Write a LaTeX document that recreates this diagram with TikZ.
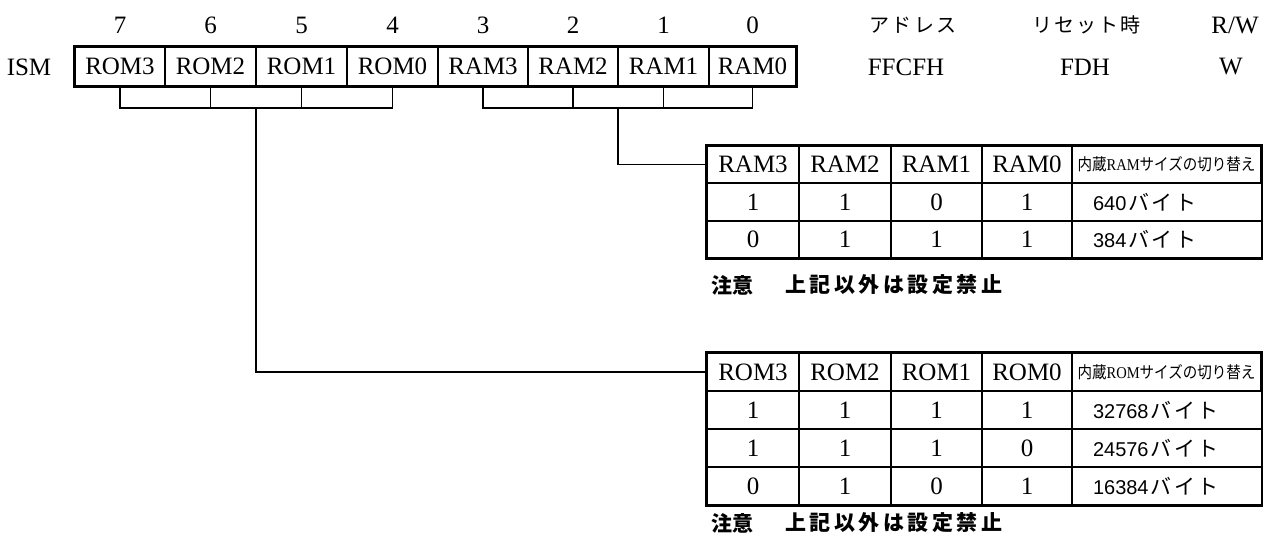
\documentclass[tikz,border=0pt]{standalone}
\usepackage{fontspec}
\setmainfont{Liberation Serif}
\newfontfamily\cjk{Noto Sans CJK JP}
\newfontfamily\numsans{Liberation Sans}
\newcommand\bytes{{\fontsize{21}{21}\selectfont\cjk\makebox[68pt]{バ\hfill イ\hfill ト}}}
\begin{document}
\begin{tikzpicture}[x=1pt,y=-1pt,
  lbl/.style={inner sep=0pt, font=\fontsize{25}{25}\selectfont},
  jlbl/.style={inner sep=0pt, font=\fontsize{20}{20}\selectfont\cjk},
  cell/.style={draw, line width=1.2pt, inner sep=0pt, font=\fontsize{25}{25}\selectfont},
  regcell/.style={cell, line width=1.5pt, minimum height=39pt},
  sizecell/.style={cell, minimum width=190pt, text width=148pt, align=left, inner xsep=21pt},
  outer/.style={draw, line width=2pt},
  br/.style={draw, line width=1.3pt},
  note/.style={inner sep=0pt, anchor=west, font=\fontsize{21}{21}\selectfont\cjk\bfseries}
]
\useasboundingbox (0,0) rectangle (1263,540);

% register
\node[regcell, minimum width=90pt] (b7) at (120,66.5) {ROM3};
\node[regcell, minimum width=91pt] (b6) at (210.5,66.5) {ROM2};
\node[regcell, minimum width=91pt] (b5) at (301.5,66.5) {ROM1};
\node[regcell, minimum width=91pt] (b4) at (392.5,66.5) {ROM0};
\node[regcell, minimum width=90pt] (b3) at (483,66.5) {RAM3};
\node[regcell, minimum width=90pt] (b2) at (573,66.5) {RAM2};
\node[regcell, minimum width=91pt] (b1) at (663.5,66.5) {RAM1};
\node[regcell, minimum width=87pt] (b0) at (752.5,66.5) {RAM0};
\draw[outer] (b7.north west) rectangle (b0.south east);

% bit numbers and header texts
\foreach \i in {7,...,0}{
  \node[lbl] (n\i) at (b\i |- 0,25) {\i};
}
\node[lbl] (ism) at (29,67) {ISM};
\node[jlbl] (hadr) at (913,25) {\makebox[87pt]{ア\hfill ド\hfill レ\hfill ス}};
\node[jlbl] (hrst) at (1086,25) {\makebox[108pt]{リ\hfill セ\hfill ッ\hfill ト\hfill 時}};
\node[lbl] (hrw) at (1235,25) {R/W};
\node[lbl] (vadr) at (906,67) {FFCFH};
\node[lbl] (vrst) at (1085,67) {FDH};
\node[lbl] (vrw) at (1231,67) {W};

% RAM table
\foreach \r/\cy/\h/\a/\b/\c/\d in {0/164.5/37/RAM3/RAM2/RAM1/RAM0, 1/202/38/1/1/0/1, 2/239.5/37/0/1/1/1}{
  \node[cell, minimum width=92pt, minimum height=\h pt] (ra-\r-0) at (753,\cy) {\a};
  \node[cell, minimum width=92pt, minimum height=\h pt] (ra-\r-1) at (845,\cy) {\b};
  \node[cell, minimum width=91pt, minimum height=\h pt] (ra-\r-2) at (936.5,\cy) {\c};
  \node[cell, minimum width=90pt, minimum height=\h pt] (ra-\r-3) at (1027,\cy) {\d};
}
\node[cell, minimum width=189pt, minimum height=37pt] (ra-0-4) at (1166.5,164.5)
  {\resizebox{178pt}{14pt}{\fontsize{15}{15}\selectfont\cjk 内蔵{\rmfamily RAM}サイズの切り替え}};
\node[sizecell, minimum height=38pt, text width=147pt] (ra-1-4) at (1166.5,202)
  {{\fontsize{20}{20}\selectfont\numsans 640}\hspace{2pt}\bytes};
\node[sizecell, minimum height=37pt, text width=147pt] (ra-2-4) at (1166.5,239.5)
  {{\fontsize{20}{20}\selectfont\numsans 384}\hspace{2pt}\bytes};
\draw[outer] (ra-0-0.north west) rectangle (ra-2-4.south east);
\node[note] (ranote1) at (711,285) {\makebox[42pt]{注\hfill 意}};
\node[note] (ranote2) at (785,285) {\makebox[217pt]{上\hfill 記\hfill 以\hfill 外\hfill は\hfill 設\hfill 定\hfill 禁\hfill 止}};

% ROM table
\foreach \r/\cy/\a/\b/\c/\d in {0/372/ROM3/ROM2/ROM1/ROM0, 1/410/1/1/1/1, 2/448/1/1/1/0, 3/486/0/1/0/1}{
  \node[cell, minimum width=92pt, minimum height=38pt] (ro-\r-0) at (753,\cy) {\a};
  \node[cell, minimum width=92pt, minimum height=38pt] (ro-\r-1) at (845,\cy) {\b};
  \node[cell, minimum width=91pt, minimum height=38pt] (ro-\r-2) at (936.5,\cy) {\c};
  \node[cell, minimum width=90pt, minimum height=38pt] (ro-\r-3) at (1027,\cy) {\d};
}
\node[cell, minimum width=189pt, minimum height=38pt] (ro-0-4) at (1166.5,372)
  {\resizebox{178pt}{14pt}{\fontsize{15}{15}\selectfont\cjk 内蔵{\rmfamily ROM}サイズの切り替え}};
\foreach \r/\cy/\v in {1/410/32768, 2/448/24576, 3/486/16384}{
  \node[sizecell, minimum height=38pt, text width=147pt] (ro-\r-4) at (1166.5,\cy)
    {{\fontsize{20}{20}\selectfont\numsans \v}\hspace{2pt}\bytes};
}
\draw[outer] (ro-0-0.north west) rectangle (ro-3-4.south east);
\node[note] (ronote1) at (711,523) {\makebox[42pt]{注\hfill 意}};
\node[note] (ronote2) at (785,523) {\makebox[217pt]{上\hfill 記\hfill 以\hfill 外\hfill は\hfill 設\hfill 定\hfill 禁\hfill 止}};

% brackets and connectors
\coordinate (romj) at (256,108);
\coordinate (ramj) at (618,108);
\draw[br] (b7.south) |- (romj) -| (b4.south);
\draw[br] (b6.south) -- (b6.south |- romj);
\draw[br] (b5.south) -- (b5.south |- romj);
\draw[br] (b3.south) |- (ramj) -| (b0.south);
\draw[br] (b2.south) -- (b2.south |- ramj);
\draw[br] (b1.south) -- (b1.south |- ramj);
\draw[br] (romj) |- (ro-0-0.west);
\draw[br] (ramj) |- (ra-0-0.west);
\end{tikzpicture}
\end{document}
